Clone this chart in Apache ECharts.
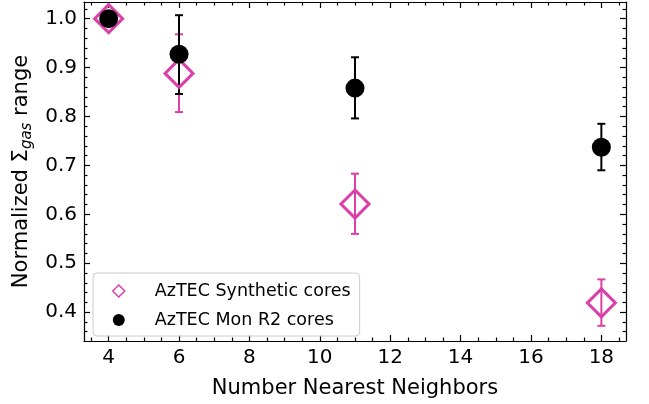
<!DOCTYPE html>
<html>
<head>
<meta charset="utf-8">
<script src="https://cdn.jsdelivr.net/npm/echarts@6/dist/echarts.min.js"></script>
<style>
  html, body { margin: 0; padding: 0; background: #fff; }
  #chart { width: 649px; height: 404px; }
</style>
</head>
<body>
<div id="chart"></div>
<script>
// Number of nearest neighbours used for each measurement
const neighbors = [4, 6, 11, 18];

// Synthetic cores: normalized surface density range and error bar ends
const syntheticRange = [1.0, 0.888, 0.621, 0.419];
const syntheticLow   = [null, 0.809, 0.560, 0.372];
const syntheticHigh  = [null, 0.968, 0.683, 0.467];

// Mon R2 cores: normalized surface density range and error bar ends
const monR2Range = [1.0, 0.927, 0.858, 0.737];
const monR2Low   = [null, 0.846, 0.796, 0.690];
const monR2High  = [null, 1.007, 0.921, 0.785];

// Tick labels
const xTicks = [4, 6, 8, 10, 12, 14, 16, 18];
const yTicks = [0.4, 0.5, 0.6, 0.7, 0.8, 0.9, 1.0];

const seriesNames = ['AzTEC Synthetic cores', 'AzTEC Mon R2 cores'];

const MAGENTA = '#dd3fa8';
const FONT = 'DejaVu Sans';
const TICK_FONT = 20;
const TITLE_FONT = 21;
const X_MIN = 3.3, X_MAX = 18.7;
const Y_MIN = 0.341, Y_MAX = 1.034;

// Minor tick positions between the labelled ticks
function minorTicks(start, end, step, majors) {
  const out = [];
  const n = Math.round((end - start) / step);
  for (let i = 0; i <= n; i++) {
    const v = +(start + i * step).toFixed(4);
    if (!majors.some(m => Math.abs(m - v) < 1e-6)) out.push(v);
  }
  return out;
}
const xMinor = minorTicks(3.5, 18.5, 0.5, xTicks);
const yMinor = minorTicks(0.36, 1.02, 0.02, yTicks);

const pointsOf = (xs, ys) => xs.map((x, i) => [x, ys[i]]);
const barsOf = (xs, lo, hi) => xs.map((x, i) => [x, lo[i], hi[i]]).filter(d => d[1] != null);

function errorBarRenderer(color) {
  return function (params, api) {
    const x = api.value(0);
    const lo = api.coord([x, api.value(1)]);
    const hi = api.coord([x, api.value(2)]);
    const cap = 4;
    const style = { stroke: color, lineWidth: 2 };
    return {
      type: 'group',
      children: [
        { type: 'line', shape: { x1: hi[0], y1: hi[1], x2: lo[0], y2: lo[1] }, style },
        { type: 'line', shape: { x1: hi[0] - cap, y1: hi[1], x2: hi[0] + cap, y2: hi[1] }, style },
        { type: 'line', shape: { x1: lo[0] - cap, y1: lo[1], x2: lo[0] + cap, y2: lo[1] }, style }
      ]
    };
  };
}

const lineStyle = { color: '#000', width: 1.2 };

function xAxisDef(position, ticks, len, withLabels, showLine) {
  return {
    type: 'value', position, min: X_MIN, max: X_MAX,
    axisLine: { show: showLine, onZero: false, lineStyle },
    axisTick: { show: true, inside: true, length: len, customValues: ticks, lineStyle: { color: '#000', width: 1.2 } },
    axisLabel: withLabels ? {
      show: true, customValues: ticks, margin: 7, color: '#000',
      fontFamily: FONT, fontSize: TICK_FONT, formatter: v => String(v)
    } : { show: false },
    splitLine: { show: false },
    name: withLabels ? 'Number Nearest Neighbors' : '',
    nameLocation: 'middle', nameGap: 37,
    nameTextStyle: { fontFamily: FONT, fontSize: TITLE_FONT, color: '#000' }
  };
}

function yAxisDef(position, ticks, len, withLabels, showLine) {
  return {
    type: 'value', position, min: Y_MIN, max: Y_MAX,
    axisLine: { show: showLine, onZero: false, lineStyle },
    axisTick: { show: true, inside: true, length: len, customValues: ticks, lineStyle: { color: '#000', width: 1.2 } },
    axisLabel: withLabels ? {
      show: true, customValues: ticks, margin: 7, color: '#000',
      fontFamily: FONT, fontSize: TICK_FONT, formatter: v => v.toFixed(1)
    } : { show: false },
    splitLine: { show: false },
    name: withLabels ? '{a|Normalized Σ}{s|gas}{a| range}' : '',
    nameLocation: 'middle', nameGap: 42, nameRotate: 90,
    nameTextStyle: {
      fontFamily: FONT, fontSize: TITLE_FONT, color: '#000',
      rich: {
        a: { fontFamily: FONT, fontSize: TITLE_FONT, color: '#000' },
        s: { fontFamily: FONT, fontSize: 15, fontStyle: 'italic', color: '#000', padding: [10, 0, 0, 0] }
      }
    }
  };
}

const chart = echarts.init(document.getElementById('chart'), null, { renderer: 'canvas' });

chart.setOption({
  animation: false,
  backgroundColor: '#fff',
  grid: { left: 84, right: 23, top: 2, bottom: 59 },
  xAxis: [
    xAxisDef('bottom', xTicks, 6, true, true),
    xAxisDef('bottom', xMinor, 3.5, false, false),
    xAxisDef('top', xTicks, 6, false, true),
    xAxisDef('top', xMinor, 3.5, false, false)
  ],
  yAxis: [
    yAxisDef('left', yTicks, 6, true, true),
    yAxisDef('left', yMinor, 3.5, false, false),
    yAxisDef('right', yTicks, 6, false, true),
    yAxisDef('right', yMinor, 3.5, false, false)
  ],
  legend: {
    orient: 'vertical',
    left: 93, top: 273,
    padding: [9, 9, 7, 19],
    itemGap: 11,
    itemWidth: 12, itemHeight: 12,
    backgroundColor: 'rgba(255,255,255,0.8)',
    borderColor: '#cccccc', borderWidth: 1, borderRadius: 4,
    textStyle: { fontFamily: FONT, fontSize: 17.5, color: '#000', padding: [0, 0, 0, 25] },
    data: [
      { name: seriesNames[0], icon: 'diamond', itemStyle: { color: 'rgba(0,0,0,0)', borderColor: MAGENTA, borderWidth: 1.5 } },
      { name: seriesNames[1], icon: 'circle', itemStyle: { color: '#000', borderWidth: 0 } }
    ]
  },
  series: [
    {
      type: 'custom', name: seriesNames[0] + ' errors', z: 1,
      renderItem: errorBarRenderer(MAGENTA),
      encode: { x: 0, y: [1, 2] },
      data: barsOf(neighbors, syntheticLow, syntheticHigh)
    },
    {
      type: 'custom', name: seriesNames[1] + ' errors', z: 2,
      renderItem: errorBarRenderer('#000'),
      encode: { x: 0, y: [1, 2] },
      data: barsOf(neighbors, monR2Low, monR2High)
    },
    {
      type: 'scatter', name: seriesNames[0], z: 3,
      symbol: 'diamond', symbolSize: 28,
      itemStyle: { color: 'rgba(0,0,0,0)', borderColor: MAGENTA, borderWidth: 3, opacity: 1 },
      emphasis: { disabled: true },
      data: pointsOf(neighbors, syntheticRange)
    },
    {
      type: 'scatter', name: seriesNames[1], z: 4,
      symbol: 'circle', symbolSize: 19,
      itemStyle: { color: '#000', opacity: 1 },
      emphasis: { disabled: true },
      data: pointsOf(neighbors, monR2Range)
    }
  ]
});
</script>
</body>
</html>
